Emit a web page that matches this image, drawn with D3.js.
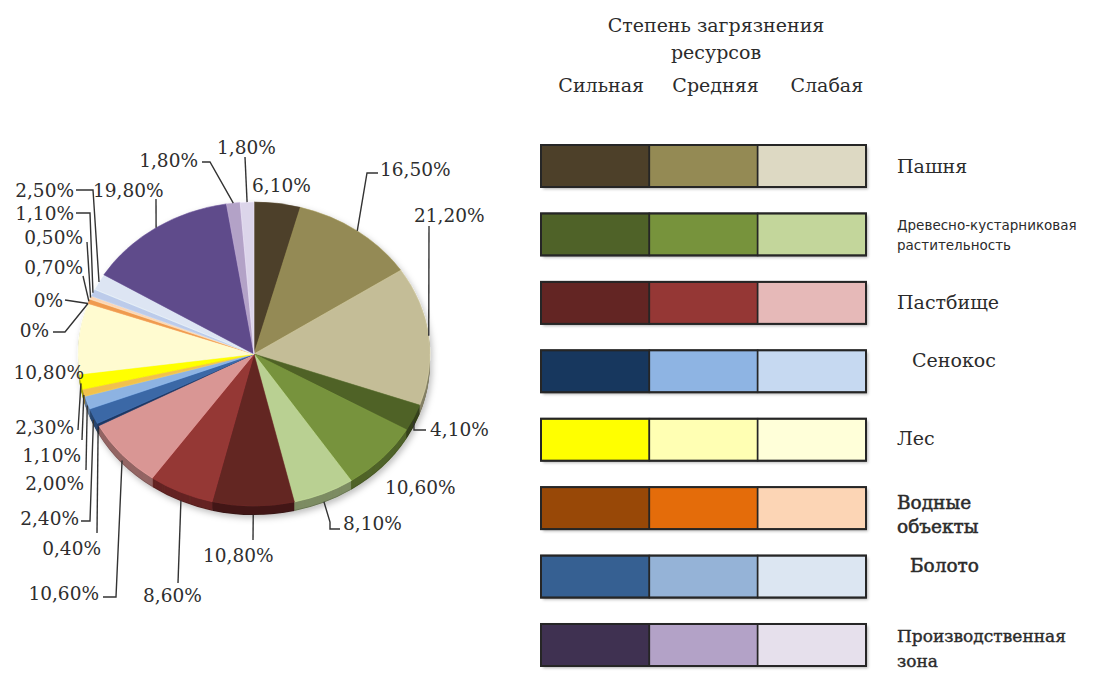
<!DOCTYPE html>
<html>
<head>
<meta charset="utf-8">
<script src="https://cdn.jsdelivr.net/npm/d3@7"></script>
<style>
  html, body { margin: 0; padding: 0; background: #fff; }
  svg { display: block; }
</style>
</head>
<body>
<svg id="chart" width="1114" height="674"></svg>
<script>
// Shares of each land use / pollution level, clockwise from 12 o'clock (%)
const sliceValues = [6.1, 16.5, 21.2, 4.1, 10.6, 8.1, 10.8, 8.6, 10.6, 0.4, 2.4, 2.0, 1.1, 2.3, 10.8, 0, 0, 0.7, 0.5, 1.1, 2.5, 19.8, 1.8, 1.8];
const sliceColors = [
  "#4d4029", "#948a54", "#c4bd97",
  "#4f6228", "#77933c", "#b9d092",
  "#632523", "#953735", "#d99694",
  "#1f3864", "#3b68a6", "#8db3e2",
  "#f2c14e", "#ffff00", "#fffbd0",
  "#984807", "#e46c0a", "#ef9a50",
  "#fcd5b5", "#bccbea", "#dde5f3",
  "#5f4b8b", "#b3a2c7", "#dcd5ea"
];

// Legend: land types, pollution levels and their colours
const levels = ["Сильная", "Средняя", "Слабая"];
const landTypes = ["Пашня", "Древесно-кустарниковая растительность", "Пастбище", "Сенокос", "Лес", "Водные объекты", "Болото", "Производственная зона"];
const landTypeLines = [["Пашня"], ["Древесно-кустарниковая", "растительность"], ["Пастбище"], ["Сенокос"], ["Лес"], ["Водные", "объекты"], ["Болото"], ["Производственная", "зона"]];
const legendColors = [
  ["#4d4029", "#948a54", "#ddd9c3"],
  ["#4f6228", "#77933c", "#c3d69b"],
  ["#632523", "#953735", "#e6b9b8"],
  ["#17375e", "#8eb4e3", "#c6d9f1"],
  ["#ffff00", "#ffffb3", "#ffffd9"],
  ["#984807", "#e46c0a", "#fcd5b5"],
  ["#366092", "#95b3d7", "#dce6f2"],
  ["#3f3151", "#b3a2c7", "#e6e0ec"]
];
const titleLines = ["Степень загрязнения", "ресурсов"];

// ---- layout ----
const svg = d3.select("#chart");
const cx = 254, cy = 354, rx = 176, ry = 152, depth = 9;
const serif = "'DejaVu Serif', 'Liberation Serif', serif";

// Label placement for each slice: text anchor point and leader bend points
const labelLayout = [
  { x: 252, y: 192, a: "start", via: null },
  { x: 380, y: 176, a: "start", via: [[367, 173], [378, 173]] },
  { x: 414, y: 222, a: "start", via: [[429, 226]] },
  { x: 430, y: 436, a: "start", via: [[414, 430], [426, 430]] },
  { x: 385, y: 494, a: "start", via: null },
  { x: 343, y: 530, a: "start", via: [[330, 522], [330, 529], [340, 529]] },
  { x: 203, y: 562, a: "start", via: [[253, 540]] },
  { x: 143, y: 602, a: "start", via: [[178, 583]] },
  { x: 99, y: 600, a: "end", via: [[116, 597], [103, 597]] },
  { x: 101, y: 555, a: "end", via: [[97, 533]] },
  { x: 79, y: 525, a: "end", via: [[90, 521], [81, 521]] },
  { x: 84, y: 490, a: "end", via: [[86, 470]] },
  { x: 81, y: 462, a: "end", via: [[82, 440]] },
  { x: 74, y: 434, a: "end", via: [[78, 430]] },
  { x: 84, y: 379, a: "end", via: null },
  { x: 63, y: 307, a: "end", via: [[65, 300]] },
  { x: 49, y: 337, a: "end", via: [[65, 332], [53, 332]] },
  { x: 83, y: 274, a: "end", via: [[83, 276]] },
  { x: 83, y: 244, a: "end", via: [[87, 242]] },
  { x: 74, y: 220, a: "end", via: [[90, 213], [76, 213]] },
  { x: 74, y: 197, a: "end", via: [[93, 190], [76, 190]] },
  { x: 93, y: 197, a: "start", via: [[156, 199]] },
  { x: 198, y: 167, a: "end", via: [[210, 162], [202, 162]] },
  { x: 217, y: 154, a: "start", via: [[245, 157]] }
];

const defs = svg.append("defs");
const shadow = defs.append("filter").attr("id", "shadow").attr("x", "-10%").attr("y", "-20%").attr("width", "130%").attr("height", "160%");
shadow.append("feDropShadow").attr("dx", 2).attr("dy", 2).attr("stdDeviation", 1.6).attr("flood-color", "#000").attr("flood-opacity", 0.3);
const pieShadow = defs.append("filter").attr("id", "pieShadow").attr("x", "-20%").attr("y", "-20%").attr("width", "140%").attr("height", "140%");
pieShadow.append("feDropShadow").attr("dx", 2).attr("dy", 3).attr("stdDeviation", 3).attr("flood-color", "#000").attr("flood-opacity", 0.25);

// ---- pie ----
const pie = d3.pie().sort(null).value(d => d)(sliceValues);
const arc = d3.arc().innerRadius(0).outerRadius(rx);
const squash = ry / rx;

const pieG = svg.append("g").attr("filter", "url(#pieShadow)");
// side wall: stacked darker copies below the top face
for (let k = depth; k >= 1; k--) {
  pieG.append("g")
    .attr("transform", `translate(${cx},${cy + k}) scale(1,${squash})`)
    .selectAll("path")
    .data(pie)
    .join("path")
    .attr("d", arc)
    .attr("fill", (d, i) => d3.color(sliceColors[i]).darker(k === depth ? 1.6 : 1.1));
}
// top face
pieG.append("g")
  .attr("transform", `translate(${cx},${cy}) scale(1,${squash})`)
  .selectAll("path")
  .data(pie)
  .join("path")
  .attr("d", arc)
  .attr("fill", (d, i) => sliceColors[i])
  .attr("stroke", (d, i) => d.value > 0 ? d3.color(sliceColors[i]).brighter(0.3) : "none")
  .attr("stroke-width", 0.6);

// ---- slice labels and leader lines ----
const fmt = v => v === 0 ? "0%" : d3.format(".2f")(v).replace(".", ",") + "%";
const edgePoint = d => {
  const t = (d.startAngle + d.endAngle) / 2;
  const c = Math.cos(t);
  return [cx + rx * Math.sin(t), cy - ry * c + (c < 0 ? -c * depth : 0)];
};

const labelG = svg.append("g");
pie.forEach((d, i) => {
  const L = labelLayout[i];
  if (L.via) {
    const pts = [edgePoint(d), ...L.via];
    labelG.append("path")
      .attr("d", d3.line()(pts))
      .attr("fill", "none")
      .attr("stroke", "#333")
      .attr("stroke-width", 1.4);
  }
  labelG.append("text")
    .attr("x", L.x)
    .attr("y", L.y)
    .attr("text-anchor", L.a)
    .attr("font-family", serif)
    .attr("font-size", 18.5)
    .attr("fill", "#2e2e2e")
    .text(fmt(d.value));
});

// ---- legend ----
const xBand = d3.scaleBand().domain(levels).range([541, 866]);
const yBand = d3.scaleBand().domain(landTypes).range([145, 666]).paddingInner(0.386);

const legendTitle = svg.append("g").attr("font-family", serif).attr("fill", "#2b2b2b");
legendTitle.selectAll("text.title")
  .data(titleLines)
  .join("text")
  .attr("class", "title")
  .attr("x", 716)
  .attr("y", (d, i) => 32 + i * 27)
  .attr("text-anchor", "middle")
  .attr("font-size", 19)
  .text(d => d);
legendTitle.selectAll("text.level")
  .data(levels)
  .join("text")
  .attr("class", "level")
  .attr("x", d => xBand(d) + xBand.bandwidth() / 2 + [6, 12, 15][levels.indexOf(d)])
  .attr("y", 92)
  .attr("text-anchor", "middle")
  .attr("font-size", 19)
  .text(d => d);

const rows = svg.append("g").selectAll("g.row")
  .data(landTypes)
  .join("g")
  .attr("class", "row")
  .attr("transform", d => `translate(0,${yBand(d)})`);

rows.append("rect")
  .attr("x", xBand.range()[0])
  .attr("width", xBand.range()[1] - xBand.range()[0])
  .attr("height", yBand.bandwidth())
  .attr("fill", "#fff")
  .attr("filter", "url(#shadow)");

rows.selectAll("rect.cell")
  .data((t, ti) => levels.map((l, li) => ({ l, c: legendColors[ti][li] })))
  .join("rect")
  .attr("class", "cell")
  .attr("x", d => xBand(d.l))
  .attr("width", xBand.bandwidth())
  .attr("height", yBand.bandwidth())
  .attr("fill", d => d.c)
  .attr("stroke", "#262626")
  .attr("stroke-width", 1.6);

rows.append("rect")
  .attr("x", xBand.range()[0])
  .attr("width", xBand.range()[1] - xBand.range()[0])
  .attr("height", yBand.bandwidth())
  .attr("fill", "none")
  .attr("stroke", "#262626")
  .attr("stroke-width", 2);

// land-type names beside each bar
const nameStyle = [
  { dx: 0, base: [7], size: 19, family: serif, heavy: 0 },
  { dx: 0, base: [-4, 16], size: 13.5, family: "'DejaVu Sans', 'Open Sans', sans-serif", heavy: 0 },
  { dx: 0, base: [6], size: 19, family: serif, heavy: 0 },
  { dx: 15, base: [-4], size: 19, family: serif, heavy: 0 },
  { dx: 0, base: [5], size: 19, family: serif, heavy: 0 },
  { dx: 0, base: [1, 25], size: 18.5, family: serif, heavy: 0.5 },
  { dx: 13, base: [-5], size: 18.5, family: serif, heavy: 0.5 },
  { dx: 0, base: [-3, 22], size: 17, family: serif, heavy: 0.4 }
];
rows.each(function (t, ti) {
  const s = nameStyle[ti];
  const mid = yBand.bandwidth() / 2;
  d3.select(this).selectAll("text")
    .data(landTypeLines[ti])
    .join("text")
    .attr("x", 897 + s.dx)
    .attr("y", (d, j) => mid + s.base[j])
    .attr("font-family", s.family)
    .attr("font-size", s.size)
    .attr("fill", "#2b2b2b")
    .attr("stroke", s.heavy ? "#2b2b2b" : "none")
    .attr("stroke-width", s.heavy)
    .text(d => d);
});
</script>
</body>
</html>
